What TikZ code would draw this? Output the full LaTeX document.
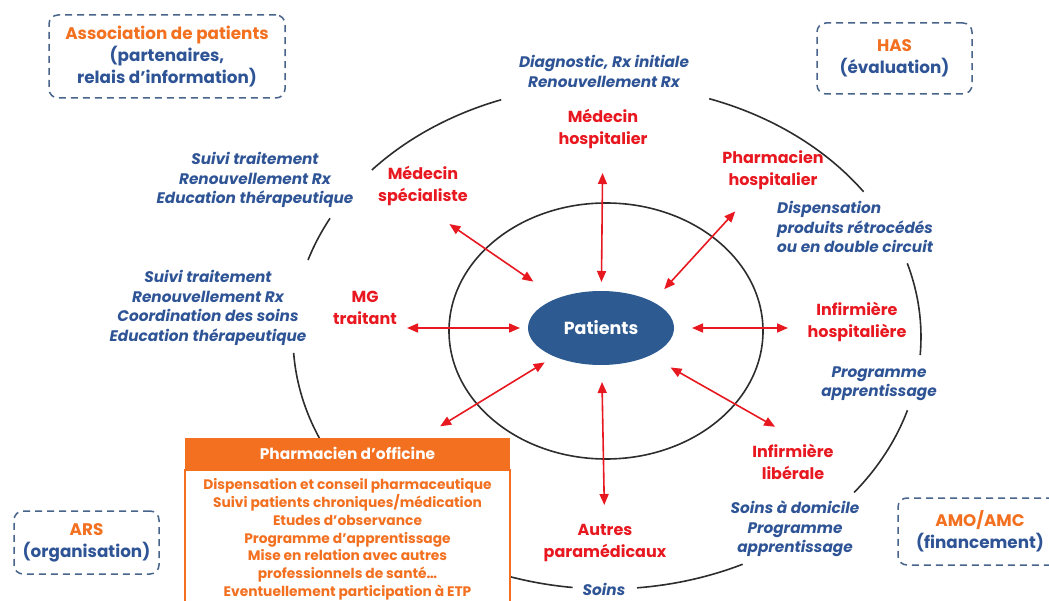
\documentclass[tikz,border=0pt]{standalone}
\usepackage{fontspec}
\setmainfont{Poppins}
\usetikzlibrary{shapes.geometric,arrows.meta,positioning}

\definecolor{rouge}{RGB}{232,24,32}
\definecolor{bleu}{RGB}{46,84,150}
\definecolor{cadre}{RGB}{72,100,138}
\definecolor{orangeph}{RGB}{242,112,32}
\definecolor{patfond}{RGB}{45,90,145}
\definecolor{trait}{RGB}{45,45,45}

\tikzset{
  acteur/.style={text=rouge, font=\bfseries\fontsize{16}{22}\selectfont, align=center, inner sep=0pt},
  role/.style={text=bleu, font=\bfseries\itshape\fontsize{15.3}{19.5}\selectfont, align=center, inner sep=0pt},
  tutelle/.style={draw=cadre, dash pattern=on 7pt off 5pt, line width=1.5pt, rounded corners=9pt, align=center, text=bleu, font=\bfseries\fontsize{16.8}{22}\selectfont},
  lien/.style={{Triangle[length=11pt,width=9pt]}-{Triangle[length=11pt,width=9pt]}, rouge, line width=1.6pt},
  anneau/.style={trait, line width=1.6pt},
}

\begin{document}
\begin{tikzpicture}[x=1pt, y=-1pt]
    \useasboundingbox (0,0) rectangle (1049,601);

    % tutelles
    \node[tutelle, minimum width=236pt, minimum height=83pt] (asso) at (167,56.5) {\textcolor{orangeph}{Association de patients}\\(partenaires,\\relais d’information)};
    \node[tutelle, minimum width=155pt, minimum height=71pt] (has) at (894.5,58.5) {\textcolor{orangeph}{HAS}\\(évaluation)};
    \node[tutelle, minimum width=145pt, minimum height=63pt] (ars) at (86.5,542.5) {\textcolor{orangeph}{ARS}\\(organisation)};
    \node[tutelle, minimum width=164pt, minimum height=67pt] (amo) at (980,531.5) {\textcolor{orangeph}{AMO/AMC}\\(financement)};

    % anneau exterieur, coupe par les roles
    \coordinate (centre) at (607,337);
    \draw[anneau] (centre) ++(221.5:314 and 252) arc[start angle=221.5, end angle=250.3, x radius=314, y radius=252];
    \draw[anneau] (centre) ++(289:314 and 252) arc[start angle=289, end angle=324.8, x radius=314, y radius=252];
    \draw[anneau] (centre) ++(-17:314 and 252) arc[start angle=-17, end angle=4.1, x radius=314, y radius=252];
    \draw[anneau] (centre) ++(16.9:314 and 252) arc[start angle=16.9, end angle=38.1, x radius=314, y radius=252];
    \draw[anneau] (centre) ++(64.4:314 and 252) arc[start angle=64.4, end angle=84.5, x radius=314, y radius=252];
    \draw[anneau] (centre) ++(96.3:314 and 252) arc[start angle=96.3, end angle=176.4, x radius=314, y radius=252];
    \draw[anneau] (centre) ++(197.8:314 and 252) arc[start angle=197.8, end angle=208.1, x radius=314, y radius=252];

    % anneau interieur
    \draw[anneau] (606,331) ellipse [x radius=157, y radius=128];

    \node[ellipse, fill=patfond, minimum width=146pt, minimum height=74pt, inner sep=0pt, text=white, font=\bfseries\fontsize{17.5}{20}\selectfont] (pat) at (601,328) {Patients};

    % acteurs
    \node[acteur] (medhosp) at (603,129) {Médecin\\hospitalier};
    \node[acteur] (spec) at (423,186) {Médecin\\spécialiste};
    \node[acteur] (phh) at (773,170) {Pharmacien\\hospitalier};
    \node[acteur] (mg) at (365,308) {MG\\traitant};
    \node[acteur] (infh) at (857,322) {Infirmière\\hospitalière};
    \node[acteur] (infl) at (793,462) {Infirmière\\libérale};
    \node[acteur] (autres) at (605,543) {Autres\\paramédicaux};

    % roles
    \node[role] (diag) at (604,71.5) {Diagnostic, Rx initiale\\Renouvellement Rx};
    \node[role] (suivispec) at (255,180) {Suivi traitement\\Renouvellement Rx\\Education thérapeutique};
    \node[role] (suivimg) at (208,308) {Suivi traitement\\Renouvellement Rx\\Coordination des soins\\Education thérapeutique};
    \node[role, align=left, anchor=west] (disp) at (777,227) {Dispensation\\produits rétrocédés\\ou en double circuit};
    \node[role] (prog) at (879,383.5) {Programme\\apprentissage};
    \node[role] (domicile) at (795,529) {Soins à domicile\\Programme\\apprentissage};
    \node[role] (soins) at (604,589) {Soins};

    % pharmacien d'officine
    \node[fill=orangeph, minimum width=325pt, minimum height=31pt, inner sep=0pt, text=white, font=\bfseries\fontsize{15.4}{16}\selectfont] (ph) at (347.5,453.5) {Pharmacien d’officine};
    \node[draw=orangeph, line width=1.5pt, fill=white, minimum width=325pt, minimum height=139pt, inner sep=0pt, below=0pt of ph, align=center, text=orangeph, font=\bfseries\fontsize{13.8}{17.8}\selectfont] (phcorps) {Dispensation et conseil pharmaceutique\\Suivi patients chroniques/médication\\Etudes d’observance\\Programme d’apprentissage\\Mise en relation avec autres\\professionnels de santé…\\Eventuellement participation à ETP};

    % liens
    \draw[lien, shorten <=46pt, shorten >=44pt] (pat.center) -- (medhosp.center);
    \draw[lien, shorten <=54pt, shorten >=38pt] (pat.center) -- (autres.center);
    \draw[lien, shorten <=81pt, shorten >=42pt] (pat.center) -- (pat.center -| mg.center);
    \draw[lien, shorten <=91pt, shorten >=69pt] (pat.center) -- (pat.center -| infh.center);
    \draw[lien, shorten <=82pt, shorten >=32pt] (pat.center) -- (spec.south);
    \draw[lien, shorten <=17pt, shorten >=56pt] (pat.north east) -- (phh.center);
    \draw[lien, shorten <=80pt, shorten >=35pt] (pat.center) -- (infl.55);
    \draw[lien, shorten <=66pt, shorten >=22pt] (pat.center) -- (ph.12);
\end{tikzpicture}
\end{document}
